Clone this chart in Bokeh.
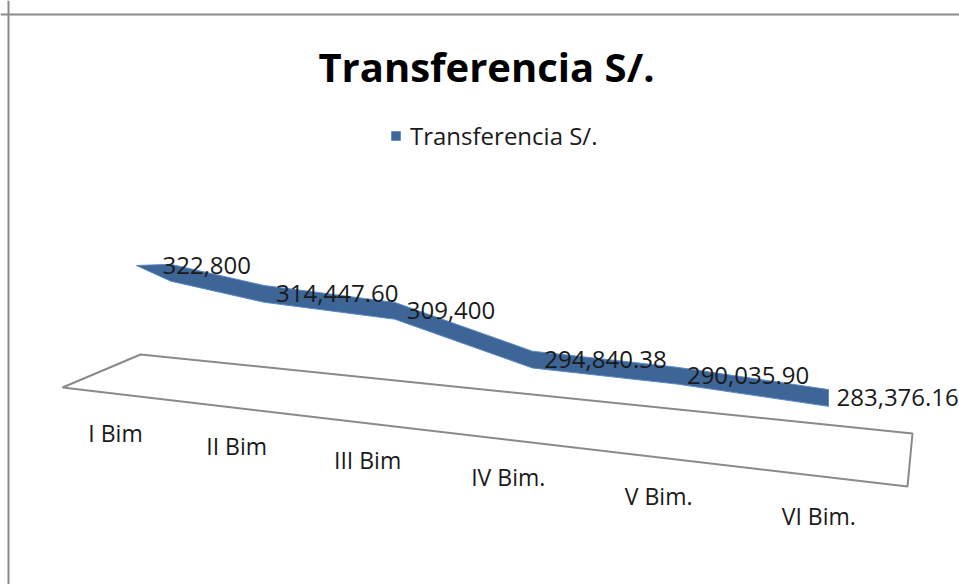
from bokeh.plotting import figure
from bokeh.models import Range1d, Span, Legend, LegendItem, ColumnDataSource
from bokeh.core.properties import value
from bokeh.embed import file_html
from bokeh.resources import INLINE

# ---------------- data ----------------
categories = ["I Bim", "II Bim", "III Bim", "IV Bim.", "V Bim.", "VI Bim."]
transferencia = [322800.00, 314447.60, 309400.00, 294840.38, 290035.90, 283376.16]
value_labels = ["322,800", "314,447.60", "309,400", "294,840.38", "290,035.90", "283,376.16"]
series_name = "Transferencia S/."
title_text = "Transferencia S/."

# ---------------- layout / style ----------------
W, H = 959, 584
X0, X1 = -1.0174, 5.952          # category-index units
Y0, Y1 = 227576.0, 401900.0      # value units
FONT = "Open Sans"
BLUE = "#3d6596"
GREY = "#8a8a8a"
PERSP = 0.0254                   # perspective spacing growth (back plane)
LABEL_DX = [22, 12, 12, 12, 10, 8]


def px_to_x(px):
    return X0 + px * (X1 - X0) / W


def py_to_y(py):
    return Y1 - py * (Y1 - Y0) / H


def back_x(i):
    return i + PERSP * i * (i - 5)


p = figure(width=W, height=H, x_range=Range1d(X0, X1), y_range=Range1d(Y0, Y1),
           output_backend="svg", toolbar_location=None, min_border=0,
           background_fill_color="white", border_fill_color="white")
p.xaxis.visible = False
p.yaxis.visible = False
p.grid.visible = False
p.outline_line_color = None

# chart-area border (top and left visible)
p.add_layout(Span(location=py_to_y(14), dimension="width", line_color=GREY, line_width=2))
p.add_layout(Span(location=px_to_x(8), dimension="height", line_color=GREY, line_width=2))

# floor of the 3-D plot
n = len(transferencia)
floor_px = [(140, 354), (912, 433), (907, 486), (62, 387)]
p.patch([px_to_x(a) for a, b in floor_px], [py_to_y(b) for a, b in floor_px],
        fill_color="white", line_color=GREY, line_width=2)

# ribbon for the series
xs = [back_x(i) for i in range(n)]
half = 8 * (Y1 - Y0) / H
d = 0.22
slope0 = (transferencia[1] - transferencia[0]) / (xs[1] - xs[0])
x_start = xs[0] + d
v_start = transferencia[0] + slope0 * d
top_x = [x_start] + xs[1:]
top_y = [v_start + half] + [v + half for v in transferencia[1:]]
bot_x = top_x[::-1]
bot_y = [v_start - half * 1.1] + [v - half * 1.1 for v in transferencia[1:]]
bot_y = bot_y[::-1]
rib_x = [xs[0] - 0.03] + top_x + bot_x
rib_y = [transferencia[0]] + top_y + bot_y
ribbon = p.patch(rib_x, rib_y, fill_color=BLUE, line_color="#5a8ac6", line_width=1)

# data labels
for xv, yv, t, dx in zip(xs, transferencia, value_labels, LABEL_DX):
    p.text(x=[xv], y=[yv], text=[t], x_offset=dx, text_align="left",
           text_baseline="middle", text_font=value(FONT), text_font_size="24px",
           text_color="#1a1a1a")

# category labels along the front edge (perspective)
cat_x = [px_to_x(115 + 116.3 * i + 4.87 * i * i) for i in range(n)]
cat_y = [py_to_y(432 + 12.13 * i + 0.933 * i * i) for i in range(n)]
csrc = ColumnDataSource(dict(x=cat_x, y=cat_y, t=categories))
p.text(x="x", y="y", text="t", source=csrc, text_align="center",
       text_baseline="middle", text_font=value(FONT), text_font_size="23px",
       text_color="#1a1a1a")

# title
p.text(x=[px_to_x(486)], y=[py_to_y(66)], text=[title_text], text_align="center",
       text_baseline="middle", text_font=value(FONT), text_font_size="40px",
       text_font_style="bold", text_color="black")

# legend
legend = Legend(items=[LegendItem(label=series_name, renderers=[ribbon])],
                location=(390, H - 152), orientation="horizontal",
                padding=0, margin=0, spacing=0, label_standoff=9,
                glyph_width=11, glyph_height=11,
                label_text_font=FONT, label_text_font_size="24px",
                label_text_color="#1a1a1a",
                border_line_color=None, background_fill_alpha=0)
p.add_layout(legend)

open("out.html", "w").write(file_html(p, INLINE))
